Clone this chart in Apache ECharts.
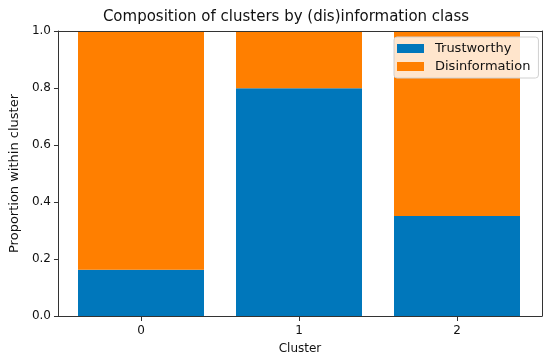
<!DOCTYPE html>
<html><head><meta charset="utf-8">
<script src="https://cdn.jsdelivr.net/npm/echarts@6/dist/echarts.min.js"></script>
<style>html,body{margin:0;padding:0;background:#fff}#c{width:550px;height:360px}</style>
</head><body><div id="c"></div>
<script>
var categories = ['0', '1', '2'];
var trustworthy = [0.165, 0.80, 0.353];
var disinformation = [0.835, 0.20, 0.647];

var FONT = 'DejaVu Sans';
var TXT = '#111';
var chart = echarts.init(document.getElementById('c'), null, {renderer: 'canvas'});
chart.setOption({
  animation: false,
  textStyle: {fontFamily: FONT},
  title: {
    text: 'Composition of clusters by (dis)information class',
    left: 281, top: 5, textAlign: 'center',
    textStyle: {fontFamily: FONT, fontSize: 15, fontWeight: 'normal', color: TXT}
  },
  legend: {
    orient: 'vertical', left: 394, top: 37,
    itemWidth: 27, itemHeight: 9, itemGap: 5,
    padding: [5, 8, 5, 3],
    backgroundColor: 'rgba(255,255,255,0.8)',
    borderColor: '#d0d0d0', borderWidth: 1, borderRadius: 3,
    textStyle: {fontFamily: FONT, fontSize: 13, color: TXT, padding: [0, 0, 0, 6]},
    icon: 'rect',
    data: ['Trustworthy', 'Disinformation']
  },
  grid: [
    {left: 53, right: 8, top: 31, bottom: 43, containLabel: false},
    {left: 62, right: 14, top: 31, bottom: 43, containLabel: false}
  ],
  xAxis: [{
    gridIndex: 0, type: 'value', min: 0, max: 1,
    name: 'Cluster', nameLocation: 'middle', nameGap: 27,
    nameTextStyle: {fontFamily: FONT, fontSize: 12, color: TXT},
    splitLine: {show: false},
    axisLine: {show: true, onZero: false, lineStyle: {color: '#333', width: 1}},
    axisTick: {show: false}, axisLabel: {show: false}, z: 10
  }, {
    gridIndex: 0, type: 'value', position: 'top', min: 0, max: 1,
    axisLine: {show: true, onZero: false, lineStyle: {color: '#333', width: 1}},
    axisTick: {show: false}, axisLabel: {show: false}, splitLine: {show: false}, z: 10
  }, {
    gridIndex: 1, type: 'category', data: categories,
    axisLine: {show: false},
    axisTick: {show: true, alignWithLabel: true, length: 4, lineStyle: {color: '#333'}},
    axisLabel: {fontFamily: FONT, fontSize: 12, color: TXT, margin: 8},
    splitLine: {show: false}, z: 10
  }],
  yAxis: [{
    gridIndex: 0, type: 'value', min: 0, max: 1, interval: 0.2,
    name: 'Proportion within cluster', nameLocation: 'middle', nameGap: 36,
    nameTextStyle: {fontFamily: FONT, fontSize: 13, color: TXT},
    splitLine: {show: false},
    axisLine: {show: true, onZero: false, lineStyle: {color: '#333', width: 1}},
    axisTick: {show: true, length: 4, lineStyle: {color: '#333'}},
    axisLabel: {formatter: function (v) { return v.toFixed(1); }, fontFamily: FONT, fontSize: 12, color: TXT, margin: 7},
    z: 10
  }, {
    gridIndex: 0, type: 'value', position: 'right', min: 0, max: 1,
    axisLine: {show: true, onZero: false, lineStyle: {color: '#333', width: 1}},
    axisTick: {show: false}, axisLabel: {show: false}, splitLine: {show: false}, z: 10
  }, {
    gridIndex: 1, type: 'value', min: 0, max: 1, show: false
  }],
  series: [{
    name: 'Trustworthy', type: 'bar', stack: 'all', barWidth: 126,
    xAxisIndex: 2, yAxisIndex: 2,
    itemStyle: {color: '#0077bb'}, data: trustworthy
  }, {
    name: 'Disinformation', type: 'bar', stack: 'all', barWidth: 126,
    xAxisIndex: 2, yAxisIndex: 2,
    itemStyle: {color: '#ff7f00'}, data: disinformation
  }]
});
</script></body></html>
